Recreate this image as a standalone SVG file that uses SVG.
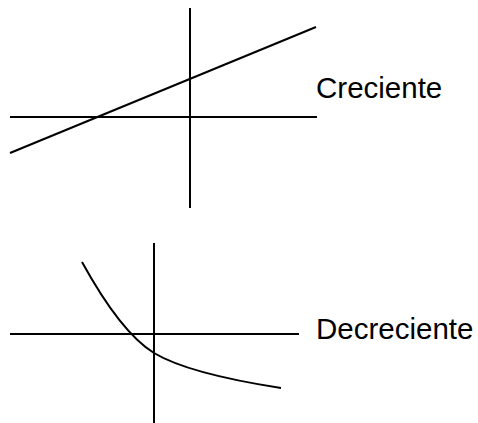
<svg xmlns="http://www.w3.org/2000/svg" width="478" height="423" viewBox="0 0 478 423">
<style>
.ax{stroke:#000;stroke-width:2;fill:none}
.cv{stroke:#000;stroke-width:2;fill:none}
.lb{font-family:"Liberation Sans",Arial,sans-serif;font-size:29.5px;fill:#000}
</style>
<rect width="478" height="423" fill="#fff"/>
<g id="creciente">
<line class="ax" x1="190" y1="8" x2="190" y2="208"/>
<line class="ax" x1="10" y1="117" x2="317" y2="117"/>
<line class="cv" x1="10" y1="153" x2="316" y2="27"/>
<text class="lb" x="316" y="97.5">Creciente</text>
</g>
<g id="decreciente">
<line class="ax" x1="154" y1="243" x2="154" y2="423"/>
<line class="ax" x1="10" y1="334" x2="299" y2="334"/>
<path class="cv" d="M82,262 C104,302 128,337 154,353 C184,371 236,381 281,388"/>
<text class="lb" x="316" y="339">Decreciente</text>
</g>
</svg>
